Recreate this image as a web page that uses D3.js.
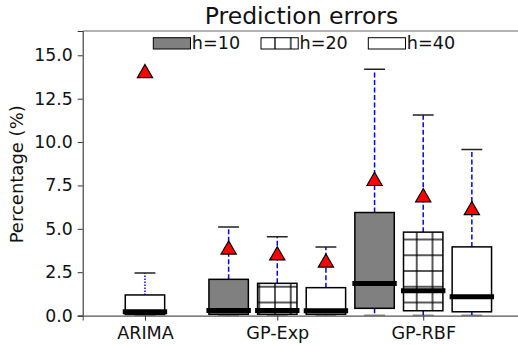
<!DOCTYPE html>
<html>
<head>
<meta charset="utf-8">
<script src="https://cdn.jsdelivr.net/npm/d3@7"></script>
<style>
  html, body { margin: 0; padding: 0; background: #fff; }
  svg { display: block; font-family: "DejaVu Sans", sans-serif; }
</style>
</head>
<body>
<svg id="chart" width="518" height="345"></svg>
<script>
// ---------- data ----------
const categories = ["ARIMA", "GP-Exp", "GP-RBF"];
const seriesNames = ["h=10", "h=20", "h=40"];
const yTicks = [0, 2.5, 5, 7.5, 10, 12.5, 15];

// per category: [ARIMA, GP-Exp, GP-RBF]  (null = no box)
const h10Low    = [null, 0,    0];
const h10Q1     = [null, 0.07, 0.42];
const h10Median = [null, 0.29, 1.85];
const h10Q3     = [null, 2.09, 5.94];
const h10High   = [null, 5.11, 14.19];
const h10Mean   = [null, 3.87, 7.82];

const h20Low    = [null, 0,    0];
const h20Q1     = [null, 0.08, 0.28];
const h20Median = [null, 0.29, 1.43];
const h20Q3     = [null, 1.86, 4.81];
const h20High   = [null, 4.54, 11.56];
const h20Mean   = [null, 3.53, 6.88];

const h40Low    = [0,    0,    0];
const h40Q1     = [0.05, 0.08, 0.22];
const h40Median = [0.22, 0.28, 1.09];
const h40Q3     = [1.19, 1.61, 3.96];
const h40High   = [2.45, 3.96, 9.57];
const h40Mean   = [14.03, 3.12, 6.14];

// ---------- layout ----------
const svg = d3.select("#chart");
const margin = { left: 82.7, top: 31, right: 520.5, bottom: 315.6 };
const x = d3.scaleLinear().domain([0, 9]).range([margin.left, margin.right]);
const y = d3.scaleLinear().domain([0, 16.4]).range([margin.bottom, margin.top]);
const catPos = [1.28, 4, 7];
const slot = 1;          // distance between boxes, in x units
const boxW = 0.81;       // box width in x units
const fills = ["#808080", "url(#hatch)", "#ffffff"];

const defs = svg.append("defs");
const hs = 15.75;
const pat = defs.append("pattern")
  .attr("id", "hatch").attr("patternUnits", "userSpaceOnUse")
  .attr("width", hs).attr("height", hs)
  .attr("x", 275 % hs).attr("y", 271 % hs);
pat.append("rect").attr("width", hs).attr("height", hs).attr("fill", "#fff");
pat.append("line").attr("x1", 0).attr("x2", 0).attr("y1", 0).attr("y2", hs)
  .attr("stroke", "#000").attr("stroke-width", 1.3);
pat.append("line").attr("x1", hs).attr("x2", hs).attr("y1", 0).attr("y2", hs)
  .attr("stroke", "#000").attr("stroke-width", 1.3);
pat.append("line").attr("x1", 0).attr("x2", hs).attr("y1", 0).attr("y2", 0)
  .attr("stroke", "#000").attr("stroke-width", 1.3);
pat.append("line").attr("x1", 0).attr("x2", hs).attr("y1", hs).attr("y2", hs)
  .attr("stroke", "#000").attr("stroke-width", 1.3);

const clip = defs.append("clipPath").attr("id", "plotclip");
clip.append("rect").attr("x", margin.left).attr("y", margin.top)
  .attr("width", margin.right - margin.left).attr("height", margin.bottom - margin.top);

// ---------- build box list ----------
const seriesStats = [
  [h10Low, h10Q1, h10Median, h10Q3, h10High, h10Mean],
  [h20Low, h20Q1, h20Median, h20Q3, h20High, h20Mean],
  [h40Low, h40Q1, h40Median, h40Q3, h40High, h40Mean]
];
const boxes = [];
categories.forEach((c, ci) => {
  const present = seriesStats.map((s, si) => si).filter(si => seriesStats[si][1][ci] !== null);
  present.forEach((si, k) => {
    const s = seriesStats[si];
    boxes.push({
      cat: ci, series: si,
      pos: catPos[ci] + (k - (present.length - 1) / 2) * slot,
      lo: s[0][ci], q1: s[1][ci], med: s[2][ci], q3: s[3][ci], hi: s[4][ci], mean: s[5][ci],
      dotted: present.length === 1
    });
  });
});

const plot = svg.append("g").attr("clip-path", "url(#plotclip)");
const capW = boxW * 0.53;

boxes.forEach(b => {
  const g = plot.append("g");
  const xl = x(b.pos - boxW / 2), xr = x(b.pos + boxW / 2), xc = x(b.pos);
  const dash = b.dotted ? "1.5,1.5" : "5,2.5";
  // whiskers
  g.append("line").attr("x1", xc).attr("x2", xc).attr("y1", y(b.q3)).attr("y2", y(b.hi))
    .attr("stroke", "#0000ff").attr("stroke-width", 1.5).attr("stroke-dasharray", dash);
  g.append("line").attr("x1", xc).attr("x2", xc).attr("y1", y(b.q1)).attr("y2", y(b.lo))
    .attr("stroke", "#0000ff").attr("stroke-width", 1.5).attr("stroke-dasharray", dash);
  // caps
  [b.hi, b.lo].forEach(v => {
    g.append("line").attr("x1", x(b.pos - capW / 2)).attr("x2", x(b.pos + capW / 2))
      .attr("y1", y(v)).attr("y2", y(v)).attr("stroke", "#222").attr("stroke-width", 1.5);
  });
  // box
  g.append("rect").attr("x", xl).attr("y", y(b.q3)).attr("width", xr - xl)
    .attr("height", y(b.q1) - y(b.q3)).attr("fill", fills[b.series])
    .attr("stroke", "#000").attr("stroke-width", 1.5);
  // median
  g.append("line").attr("x1", xl).attr("x2", xr).attr("y1", y(b.med)).attr("y2", y(b.med))
    .attr("stroke", "#000").attr("stroke-width", 5).attr("stroke-linecap", "square");
});
// means (triangles)
plot.selectAll("path.mean").data(boxes).enter().append("path").attr("class", "mean")
  .attr("d", d3.symbol().type(d3.symbolTriangle).size(100))
  .attr("transform", d => `translate(${x(d.pos)},${y(d.mean) + 1.2})`)
  .attr("fill", "#ff0000").attr("stroke", "#000").attr("stroke-width", 1.2);

// ---------- axes ----------
const yAxis = d3.axisLeft(y).tickValues(yTicks).tickFormat(d3.format(".1f")).tickSize(5).tickPadding(5);
const gy = svg.append("g").attr("transform", `translate(${margin.left},0)`).call(yAxis);
gy.select(".domain").attr("stroke", "#333").attr("stroke-width", 1.1);
gy.selectAll(".tick line").attr("stroke", "#333").attr("stroke-width", 1);
gy.selectAll(".tick text").attr("font-size", "17.3px").attr("fill", "#111")
  .attr("font-family", "DejaVu Sans");

const xAxis = d3.axisBottom(x).tickValues(catPos).tickFormat((d, i) => categories[i]).tickSize(5).tickPadding(6);
const gx = svg.append("g").attr("transform", `translate(0,${margin.bottom})`).call(xAxis);
gx.select(".domain").attr("stroke", "#555").attr("stroke-width", 1.1);
gx.selectAll(".tick line").attr("stroke", "#333");
gx.selectAll(".tick text").attr("font-size", "17.6px").attr("fill", "#111")
  .attr("font-family", "DejaVu Sans");

// top spine
svg.append("line").attr("x1", margin.left).attr("x2", margin.right)
  .attr("y1", margin.top).attr("y2", margin.top).attr("stroke", "#666").attr("stroke-width", 1.1);

// ---------- title & label ----------
svg.append("text").attr("x", 301.5).attr("y", 23.5).attr("text-anchor", "middle")
  .attr("font-size", "23.5px").attr("fill", "#111").text("Prediction errors");
svg.append("text").attr("transform", `translate(23,${(margin.top + margin.bottom) / 2 + 1}) rotate(-90)`)
  .attr("text-anchor", "middle").attr("font-size", "18px").attr("fill", "#111").text("Percentage (%)");

// ---------- legend ----------
const legendX = [153.3, 261, 368.3];
const leg = svg.append("g");
seriesNames.forEach((n, i) => {
  leg.append("rect").attr("x", legendX[i]).attr("y", 37.7).attr("width", 37.2).attr("height", 11.3)
    .attr("fill", fills[i]).attr("stroke", "#000").attr("stroke-width", 1);
  leg.append("text").attr("x", legendX[i] + 38.5).attr("y", 49).attr("font-size", "17.6px")
    .attr("fill", "#111").text(n);
});
</script>
</body>
</html>
